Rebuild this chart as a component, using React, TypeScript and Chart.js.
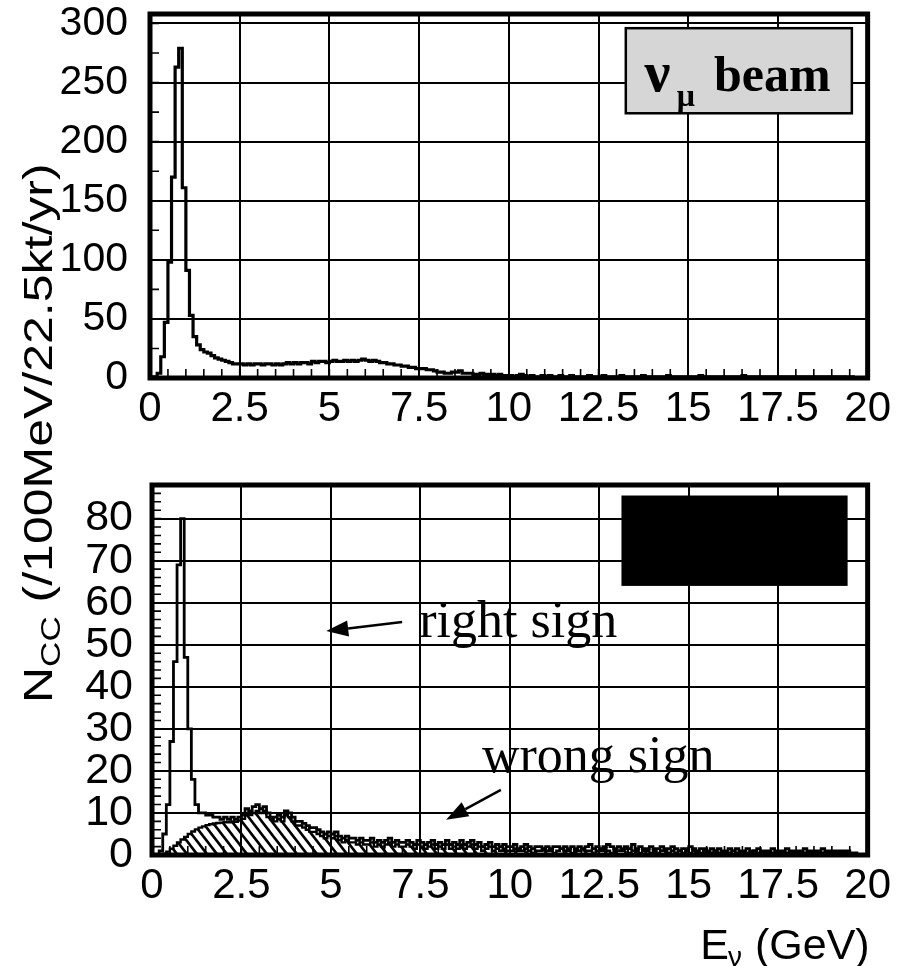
import React, { useEffect, useRef } from "react";
import { Chart, registerables } from "chart.js";

Chart.register(...registerables);

// ---------------- data ----------------
const BIN_WIDTH_GEV = 0.1;
const E_MIN_GEV = 0;
const E_MAX_GEV = 20;

const X_TICK_VALUES = [0, 2.5, 5, 7.5, 10, 12.5, 15, 17.5, 20];
const X_TICK_LABELS = ["0", "2.5", "5", "7.5", "10", "12.5", "15", "17.5", "20"];

const TOP_Y_MAX = 308;
const TOP_Y_TICK_VALUES = [0, 50, 100, 150, 200, 250, 300];
const TOP_Y_TICK_LABELS = ["0", "50", "100", "150", "200", "250", "300"];

const BOTTOM_Y_MAX = 88;
const BOTTOM_Y_TICK_VALUES = [0, 10, 20, 30, 40, 50, 60, 70, 80];
const BOTTOM_Y_TICK_LABELS = ["0", "10", "20", "30", "40", "50", "60", "70", "80"];

// N_CC per 100 MeV bin, nu_mu beam (top panel), 200 bins 0-20 GeV
const NUMU_BEAM_COUNTS = [
  0, 1, 4, 18, 47, 98, 170, 263, 279, 161,
  91, 53, 35, 28, 24, 22, 21, 19, 17, 16,
  15, 14, 13, 12, 12, 12, 11, 12, 11, 12,
  12, 11, 12, 12, 11, 12, 11, 12, 13, 12,
  13, 12, 13, 13, 12, 14, 13, 14, 14, 13,
  14, 15, 14, 14, 15, 14, 15, 14, 15, 16,
  15, 14, 15, 14, 13, 13, 12, 12, 11, 11,
  10, 10, 9, 9, 8, 8, 8, 7, 7, 6,
  5, 5, 4, 4, 5, 5, 6, 4, 4, 4,
  3, 3, 4, 3, 3, 3, 2, 3, 2, 2,
  2, 1, 2, 3, 2, 1, 2, 1, 1, 2,
  1, 2, 1, 1, 2, 1, 1, 2, 1, 1,
  1, 1, 2, 1, 1, 1, 2, 1, 1, 1,
  1, 2, 1, 1, 1, 1, 1, 2, 1, 1,
  1, 1, 1, 1, 2, 1, 1, 1, 1, 1,
  1, 1, 1, 2, 1, 1, 1, 1, 1, 1,
  1, 1, 1, 1, 1, 2, 1, 1, 1, 1,
  1, 1, 1, 1, 1, 1, 1, 1, 1, 1,
  1, 1, 1, 1, 1, 1, 1, 1, 1, 1,
  1, 1, 1, 1, 0, 1, 0, 0, 0, 0,
];

// bottom panel: right sign
const RIGHT_SIGN_COUNTS = [
  0, 0, 1, 5, 12, 27, 46, 69, 80, 47,
  30, 18, 12, 10, 10, 9.5, 9.5, 9, 9, 8.5,
  9, 8.5, 9, 8.5, 9, 9.5, 11, 10.5, 11.5, 12,
  11, 11.5, 10, 9, 9, 9.5, 9, 10.5, 10, 9,
  8, 8, 7.5, 7, 6.5, 6.5, 6, 5.5, 5, 5.5,
  5, 5.5, 4.5, 4, 4.5, 4, 4, 3.5, 4, 3.5,
  3.5, 4, 3, 3.5, 3, 3.5, 4, 3, 3.5, 3,
  3, 3.5, 3, 2.5, 3.5, 3, 2.5, 3, 3.5, 2.5,
  3, 2.5, 3.5, 2.5, 3, 2.5, 3.5, 2.5, 3, 3.5,
  2.5, 3, 2, 2.5, 3, 2, 2.5, 2, 2.5, 2,
  2, 2.5, 1.5, 2, 2.5, 2, 1.5, 2, 2, 1.5,
  2, 1.5, 2, 2, 1.5, 2, 1.5, 2, 1.5, 2,
  1.5, 2, 2.5, 1.5, 2, 1.5, 2, 2.5, 2, 1.5,
  2, 1.5, 2, 1.5, 2.5, 1.5, 2, 1.5, 1.5, 2,
  1.5, 1.5, 2, 1.5, 1.5, 2, 1.5, 1, 1.5, 1.5,
  2, 1.5, 1, 1.5, 1.5, 1, 1.5, 1, 1.5, 1,
  1, 1.5, 1, 1.5, 1, 1, 1.5, 1, 1, 1.5,
  1, 1, 1, 1.5, 1, 1, 1, 1.5, 1, 1,
  1, 1, 1.5, 1, 1, 1, 1, 1.5, 1, 1,
  1, 1, 1, 1, 1, 0.5, 0.5, 0, 0, 0,
];

// bottom panel: wrong sign (hatched)
const WRONG_SIGN_COUNTS = [
  0, 0, 0, 0.3, 0.8, 1.5, 2.2, 3, 3.7, 4.3,
  5, 5.6, 6.1, 6.5, 6.8, 7.1, 7.3, 7.5, 7.6, 7.7,
  7.8, 7.8, 8, 7.9, 8.2, 8.6, 9.5, 9.5, 10, 10.5,
  10, 10.5, 9, 8.5, 8, 8.5, 8, 9.5, 9, 8,
  7, 7, 6.5, 6, 5.5, 5.5, 5, 4.5, 4, 4.5,
  4, 4.5, 3.5, 3, 3.5, 3, 3, 2.5, 3, 2.5,
  2.5, 3, 2, 2.5, 2, 2.5, 3, 2, 2.5, 2,
  2, 2.5, 2, 1.5, 2.5, 2, 1.5, 2, 2.5, 1.5,
  2, 1.5, 2.5, 1.5, 2, 1.5, 2.5, 1.5, 2, 2.5,
  1.5, 2, 1, 1.5, 2, 1, 1.5, 1, 1.5, 1,
  1, 1.5, 1, 1, 1.5, 1, 0.5, 1, 1, 1.5,
  1, 1, 0.5, 1, 1.5, 1, 1, 0.5, 1, 1,
  1.5, 1, 1, 0.5, 1, 1, 1.5, 1, 0.5, 1,
  1, 1, 1.5, 0.5, 1, 1, 0.5, 1, 1, 0.5,
  1, 0.5, 1, 1, 0.5, 1, 0.5, 1, 0.5, 1,
  0.5, 1, 0.5, 0.5, 1, 0.5, 0.5, 1, 0.5, 0.5,
  0.5, 0.5, 1, 0.5, 0.5, 0.5, 0.5, 0.5, 1, 0.5,
  0.5, 0.5, 0.5, 0.5, 0.5, 0.5, 0.5, 0.5, 0.5, 0.5,
  0.5, 0.5, 0.5, 0.5, 0.5, 0.5, 0.5, 0.5, 0.5, 0.5,
  0.5, 0.5, 0.5, 0.5, 0.5, 0, 0, 0, 0, 0,
];

const BEAM_LABEL_NU = "ν";
const BEAM_LABEL_SUB = "μ";
const BEAM_LABEL_TEXT = "beam";
const RIGHT_SIGN_LABEL = "right sign";
const WRONG_SIGN_LABEL = "wrong sign";
const Y_TITLE_MAIN = "N";
const Y_TITLE_SUB = "CC";
const Y_TITLE_REST = " (/100MeV/22.5kt/yr)";
const X_TITLE_MAIN = "E";
const X_TITLE_SUB = "ν";
const X_TITLE_REST = " (GeV)";

// ---------------- styling ----------------
const SANS = '"Liberation Sans", Arial, Helvetica, sans-serif';
const NARROW = '"Liberation Sans Narrow", "Arial Narrow"';
const SERIF = '"Liberation Serif", "Times New Roman", Times, serif';
const W = 897;
const H = 966;
const TOP_CANVAS_TOP = -60;
const TOP_CANVAS_H = H - TOP_CANVAS_TOP;

function hasNarrowFont(): boolean {
  const c = document.createElement("canvas");
  const g = c.getContext("2d");
  if (!g) return false;
  const s = "0123456789.5";
  g.font = "40px monospace";
  const a = g.measureText(s).width;
  g.font = `40px ${NARROW}, monospace`;
  const b = g.measureText(s).width;
  return Math.abs(a - b) > 0.5;
}

function histogramPoints(counts: number[]) {
  const pts = counts.map((c, i) => ({ x: +(E_MIN_GEV + i * BIN_WIDTH_GEV).toFixed(2), y: c }));
  pts.push({ x: +(E_MIN_GEV + counts.length * BIN_WIDTH_GEV).toFixed(2), y: counts[counts.length - 1] });
  return pts;
}

function makeHatch(): CanvasPattern | string {
  const c = document.createElement("canvas");
  const tw = 10, th = 13;
  c.width = tw;
  c.height = th;
  const g = c.getContext("2d");
  if (!g) return "rgba(0,0,0,0.3)";
  g.strokeStyle = "#000";
  g.lineWidth = 2.6;
  g.beginPath();
  for (let k = -1; k <= 1; k++) {
    g.moveTo(k * tw - tw, -th);
    g.lineTo(k * tw + 2 * tw, 2 * th);
  }
  g.stroke();
  const p = g.createPattern(c, "repeat");
  return p || "rgba(0,0,0,0.3)";
}

function framePlugin(minorX: number, minorY: number) {
  return {
    id: "frameMinor",
    afterDatasetsDraw(chart: any) {
      const { ctx, chartArea: a, scales } = chart;
      const xs = scales.x, ys = scales.y;
      const len = 9;
      ctx.save();
      ctx.strokeStyle = "#000";
      ctx.lineWidth = 1.6;
      ctx.beginPath();
      const nx = Math.round((xs.max - xs.min) / minorX);
      for (let i = 1; i < nx; i++) {
        const p = xs.getPixelForValue(xs.min + i * minorX);
        ctx.moveTo(p, a.bottom);
        ctx.lineTo(p, a.bottom - len);
      }
      const ny = Math.floor((ys.max - ys.min) / minorY);
      for (let i = 1; i <= ny; i++) {
        const p = ys.getPixelForValue(ys.min + i * minorY);
        ctx.moveTo(a.left, p);
        ctx.lineTo(a.left + len, p);
      }
      ctx.stroke();
      ctx.lineWidth = 5;
      ctx.strokeRect(a.left, a.top, a.right - a.left, a.bottom - a.top);
      ctx.restore();
    },
  };
}

function drawArrow(ctx: CanvasRenderingContext2D, x1: number, y1: number, x2: number, y2: number) {
  const ang = Math.atan2(y2 - y1, x2 - x1);
  const hl = 22, hw = 8;
  const bx = x2 - hl * Math.cos(ang), by = y2 - hl * Math.sin(ang);
  ctx.beginPath();
  ctx.moveTo(x1, y1);
  ctx.lineTo(bx, by);
  ctx.lineWidth = 2.5;
  ctx.stroke();
  ctx.beginPath();
  ctx.moveTo(x2, y2);
  ctx.lineTo(bx + hw * Math.sin(ang), by - hw * Math.cos(ang));
  ctx.lineTo(bx - hw * Math.sin(ang), by + hw * Math.cos(ang));
  ctx.closePath();
  ctx.fill();
}

function axisCommon(tickValues: number[], tickLabels: string[], family: string, fontSize: number, padding: number, fixed: number, isX: boolean) {
  return {
    type: "linear",
    afterBuildTicks: (scale: any) => {
      scale.ticks = tickValues.map((v) => ({ value: v }));
    },
    afterFit: (scale: any) => {
      if (isX) scale.height = fixed;
      else scale.width = fixed;
    },
    grid: { color: "#000", lineWidth: 2, drawTicks: false },
    border: { display: false },
    ticks: {
      autoSkip: false,
      maxRotation: 0,
      minRotation: 0,
      padding,
      color: "#000",
      font: { family, size: fontSize },
      callback: (_v: any, i: number) => tickLabels[i],
    },
  };
}

export default function App() {
  const topRef = useRef<HTMLCanvasElement>(null);
  const botRef = useRef<HTMLCanvasElement>(null);

  useEffect(() => {
    document.body.style.margin = "0";
    document.body.style.overflow = "hidden";
    if (!topRef.current || !botRef.current) return;

    const narrow = hasNarrowFont();
    const xFamily = narrow ? `${NARROW}, ${SANS}` : SANS;
    const xSize = narrow ? 47 : 42;
    const xPad = narrow ? 4 : 6;

    const topAnnot = {
      id: "topAnnot",
      afterDraw(chart: any) {
        const { ctx, scales } = chart;
        const X = (v: number) => scales.x.getPixelForValue(v);
        const Y = (v: number) => scales.y.getPixelForValue(v);
        ctx.save();
        const bx = X(13.26), by = Y(296), bw = X(19.56) - bx, bh = Y(224) - by;
        ctx.fillStyle = "#d6d6d6";
        ctx.fillRect(bx, by, bw, bh);
        ctx.lineWidth = 2.5;
        ctx.strokeStyle = "#000";
        ctx.strokeRect(bx, by, bw, bh);
        ctx.fillStyle = "#000";
        ctx.textBaseline = "alphabetic";
        ctx.textAlign = "left";
        ctx.font = `bold 58px ${SERIF}`;
        ctx.fillText(BEAM_LABEL_NU, X(13.78), Y(243));
        ctx.font = `bold 32px ${SERIF}`;
        ctx.fillText(BEAM_LABEL_SUB, X(14.68), Y(230));
        ctx.font = `bold 50px ${SERIF}`;
        ctx.fillText(BEAM_LABEL_TEXT, X(15.72), Y(243));
        ctx.restore();
      },
    };

    const botAnnot = {
      id: "botAnnot",
      afterDraw(chart: any) {
        const { ctx, scales, chartArea } = chart;
        const X = (v: number) => scales.x.getPixelForValue(v);
        const Y = (v: number) => scales.y.getPixelForValue(v);
        ctx.save();
        ctx.fillStyle = "#000";
        ctx.strokeStyle = "#000";
        // obscured black legend box
        const bx = X(13.12), by = Y(85.5);
        ctx.fillRect(bx, by, X(19.44) - bx, Y(64) - by);
        // labels
        ctx.textAlign = "left";
        ctx.textBaseline = "alphabetic";
        ctx.font = `52px ${SERIF}`;
        ctx.fillText(RIGHT_SIGN_LABEL, X(7.47), Y(51.8));
        ctx.fillText(WRONG_SIGN_LABEL, X(9.22), Y(19.8));
        drawArrow(ctx, X(6.99), Y(55.4), X(4.87), Y(53.25));
        drawArrow(ctx, X(9.75), Y(15.5), X(8.22), Y(8.4));

        // x title, right aligned to plot edge
        const fMain = `43px ${SANS}`, fSub = `28px ${SANS}`;
        ctx.font = fMain;
        const wE = ctx.measureText(X_TITLE_MAIN).width;
        const wRest = ctx.measureText(X_TITLE_REST).width;
        ctx.font = fSub;
        const wSub = ctx.measureText(X_TITLE_SUB).width;
        const right = chartArea.right + 2;
        const base = 959;
        const x0 = right - (wE + wSub + wRest);
        ctx.font = fMain;
        ctx.fillText(X_TITLE_MAIN, x0, base);
        ctx.font = fSub;
        ctx.fillText(X_TITLE_SUB, x0 + wE - 1, base + 7);
        ctx.font = fMain;
        ctx.fillText(X_TITLE_REST, x0 + wE + wSub, base);

        // y title, rotated
        ctx.translate(52, 703);
        ctx.rotate(-Math.PI / 2);
        ctx.scale(1.25, 1);
        ctx.font = `40px ${SANS}`;
        ctx.fillText(Y_TITLE_MAIN, 0, 0);
        const wN = ctx.measureText(Y_TITLE_MAIN).width;
        ctx.font = `28px ${SANS}`;
        ctx.fillText(Y_TITLE_SUB, wN, 8);
        const wCC = ctx.measureText(Y_TITLE_SUB).width;
        ctx.font = `40px ${SANS}`;
        ctx.fillText(Y_TITLE_REST, wN + wCC, 0);
        ctx.restore();
      },
    };

    const topChart = new Chart(topRef.current, {
      type: "line",
      data: {
        datasets: [
          {
            data: histogramPoints(NUMU_BEAM_COUNTS),
            stepped: "before",
            borderColor: "#000",
            borderWidth: 3.2,
            pointRadius: 0,
            fill: false,
          } as any,
        ],
      },
      options: {
        animation: false,
        responsive: false,
        maintainAspectRatio: false,
        events: [],
        layout: { padding: { top: 14 - TOP_CANVAS_TOP, right: W - 871, bottom: TOP_CANVAS_H - (378 - TOP_CANVAS_TOP) - 62, left: 0 } },
        plugins: { legend: { display: false }, tooltip: { enabled: false } },
        scales: {
          x: { ...axisCommon(X_TICK_VALUES, X_TICK_LABELS, xFamily, xSize, xPad, 62, true), min: E_MIN_GEV, max: E_MAX_GEV } as any,
          y: { ...axisCommon(TOP_Y_TICK_VALUES, TOP_Y_TICK_LABELS, SANS, 41, 22, 150, false), min: 0, max: TOP_Y_MAX } as any,
        },
      },
      plugins: [framePlugin(0.5, 25), topAnnot],
    });

    const hatch = makeHatch();
    const botChart = new Chart(botRef.current, {
      type: "line",
      data: {
        datasets: [
          {
            data: histogramPoints(RIGHT_SIGN_COUNTS),
            stepped: "before",
            borderColor: "#000",
            borderWidth: 2.8,
            pointRadius: 0,
            fill: false,
            order: 0,
          } as any,
          {
            data: histogramPoints(WRONG_SIGN_COUNTS),
            stepped: "before",
            borderColor: "#000",
            borderWidth: 2.4,
            backgroundColor: hatch,
            pointRadius: 0,
            fill: "origin",
            order: 1,
          } as any,
        ],
      },
      options: {
        animation: false,
        responsive: false,
        maintainAspectRatio: false,
        events: [],
        layout: { padding: { top: 485, right: W - 870, bottom: 0, left: 0 } },
        plugins: { legend: { display: false }, tooltip: { enabled: false } },
        scales: {
          x: { ...axisCommon(X_TICK_VALUES, X_TICK_LABELS, xFamily, xSize, xPad, H - 855, true), min: E_MIN_GEV, max: E_MAX_GEV } as any,
          y: { ...axisCommon(BOTTOM_Y_TICK_VALUES, BOTTOM_Y_TICK_LABELS, SANS, 43, 19, 152, false), min: 0, max: BOTTOM_Y_MAX } as any,
        },
      },
      plugins: [framePlugin(0.5, 2), botAnnot],
    });

    return () => {
      topChart.destroy();
      botChart.destroy();
    };
  }, []);

  return (
    <div style={{ position: "absolute", left: 0, top: 0, width: W, height: H, overflow: "hidden", background: "#fff" }}>
      <canvas
        ref={topRef}
        width={W}
        height={TOP_CANVAS_H}
        style={{ position: "absolute", left: 0, top: TOP_CANVAS_TOP, width: W, height: TOP_CANVAS_H }}
      />
      <canvas
        ref={botRef}
        width={W}
        height={H}
        style={{ position: "absolute", left: 0, top: 0, width: W, height: H }}
      />
    </div>
  );
}
